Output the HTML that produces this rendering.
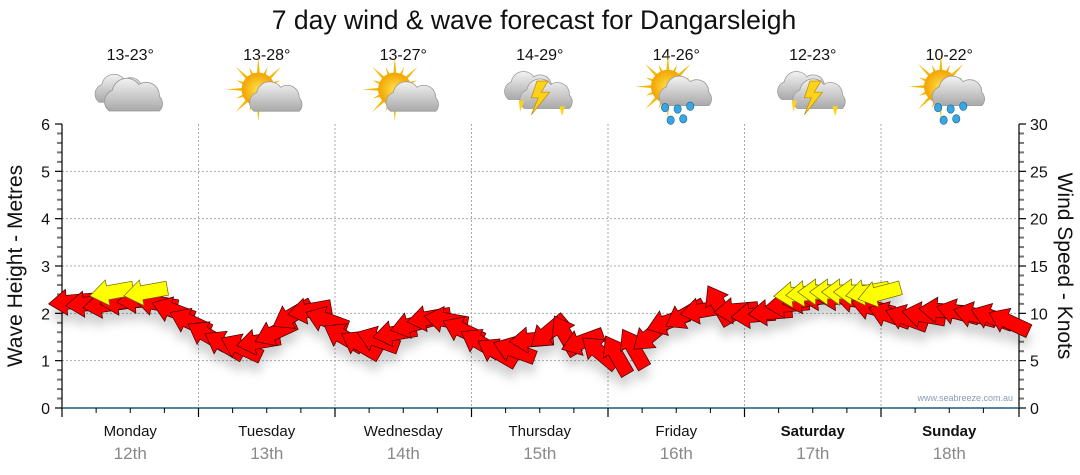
<!DOCTYPE html>
<html><head><meta charset="utf-8"><style>
html,body{margin:0;padding:0;background:#fff;}
svg{display:block;font-family:"Liberation Sans","DejaVu Sans",sans-serif;}
</style></head><body>
<svg id="chart" width="1080" height="475" viewBox="0 0 1080 475" xmlns="http://www.w3.org/2000/svg">
<defs>
<filter id="sh" x="-50%" y="-50%" width="200%" height="250%"><feDropShadow dx="0" dy="10" stdDeviation="5" flood-color="#000" flood-opacity="0.18"/></filter>
<radialGradient id="sun" cx="50%" cy="50%" r="50%"><stop offset="0" stop-color="#ffe14a"/><stop offset="1" stop-color="#f2a300"/></radialGradient>
<linearGradient id="cl" x1="0" y1="0" x2="0" y2="1"><stop offset="0" stop-color="#f2f2f2"/><stop offset="1" stop-color="#a9a9a9"/></linearGradient>
</defs>
<text x="534" y="29" font-size="26.5" text-anchor="middle" fill="#111">7 day wind &amp; wave forecast for Dangarsleigh</text>
<g id="grid"></g>
<g id="axes"></g>
<g id="icons"></g>
<g id="marks" filter="url(#sh)"></g>
<text transform="translate(22,266) rotate(-90)" font-size="21" text-anchor="middle" fill="#111">Wave Height - Metres</text>
<text transform="translate(1058,266) rotate(90)" font-size="21" text-anchor="middle" fill="#111">Wind Speed - Knots</text>
<text x="1013" y="401" font-size="9" text-anchor="end" fill="#8a9bb5">www.seabreeze.com.au</text>
</svg>
<script>
const days = ["Monday","Tuesday","Wednesday","Thursday","Friday","Saturday","Sunday"];
const dates = ["12th","13th","14th","15th","16th","17th","18th"];
const temps = ["13-23°","13-28°","13-27°","14-29°","14-26°","12-23°","10-22°"];
const weather = ["cloudy","partsun","partsun","storm","sunrain","storm","sunrain"];
const waveTicks = [0,1,2,3,4,5,6];
const windTicks = [0,5,10,15,20,25,30];
// wind speed in knots, 3-hourly
const windSpeed = [11.2,11.0,10.9,11.2,11.4,11.1,10.3,9.1,7.7,6.7,6.4,7.0,8.0,9.8,10.3,9.3,7.5,6.7,7.2,7.9,8.8,9.5,9.3,8.2,6.9,5.9,6.1,7.2,8.0,7.7,7.0,5.9,5.6,6.3,7.7,9.1,9.8,10.3,10.9,10.3,9.8,10.1,10.9,11.4,11.7,11.7,11.4,10.6,9.8,9.5,9.8,10.3,10.1,9.8,9.6,9.1];
// arrow rotation in degrees (0 = pointing left, positive = clockwise)
const windDir = [-5,-5,-8,-5,-5,10,20,25,30,30,25,-10,-25,-30,-10,20,30,30,20,-10,-15,-10,10,25,30,30,20,-5,-40,60,-20,40,60,60,-40,-20,-30,-10,60,-5,-5,-5,-5,-10,-5,-5,10,15,20,20,10,5,15,15,20,25];
// yellow wave/swell arrows: time index (3h units), wave height m, rotation
const swellT = [2.4,4.4,42.5,43.2,43.9,44.6,45.3,46.0,46.7,47.4];
const swellH = [2.45,2.45,2.4,2.42,2.45,2.45,2.45,2.45,2.45,2.42];
const swellDir = [-10,-10,-5,-5,0,0,0,0,-10,-15];

const NS="http://www.w3.org/2000/svg";
const X0=62, X1=1017.5, Y0=408, YT=124;
const dayW=(X1-X0)/7;
function xT(t){return X0 + t*dayW/8 + dayW/16;}
function yM(m){return Y0 - m*(Y0-YT)/6;}
function yK(k){return Y0 - k*(Y0-YT)/30;}
function mk(tag,attrs,parent){const e=document.createElementNS(NS,tag);for(const k in attrs)e.setAttribute(k,attrs[k]);parent.appendChild(e);return e;}
const grid=document.getElementById('grid'), axes=document.getElementById('axes'), icons=document.getElementById('icons'), marks=document.getElementById('marks');

waveTicks.forEach(v=>{
  const y=yM(v);
  if(v>0&&v<6){const g=mk('line',{x1:X0,x2:1019,y1:y,y2:y,stroke:'#aaa','stroke-dasharray':'2,2','stroke-width':1},grid);
  
  }
  const t=mk('text',{x:X0-12,y:y+6,'font-size':16,'text-anchor':'end',fill:'#111'},axes);t.textContent=v;
  
  
});
for(let i=0;i<=30;i++){const y=yM(i*0.2);mk('line',{x1:X0-(i%5==0?7:5),x2:X0,y1:y,y2:y,stroke:i%5==0?'#000':'#777','stroke-width':i%5==0?1.2:2},axes);}
for(let i=0;i<=30;i++){const y=yK(i);mk('line',{x1:1019,x2:1019+(i%5==0?7:5),y1:y,y2:y,stroke:i%5==0?'#000':'#777','stroke-width':i%5==0?1.2:2},axes);}
windTicks.forEach(v=>{const t=mk('text',{x:1030,y:yK(v)+6,'font-size':16,fill:'#111'},axes);t.textContent=v;
  
  });
mk('line',{x1:X0,x2:X0,y1:YT,y2:Y0,stroke:'#000','stroke-width':1.2},axes);
mk('line',{x1:1019,x2:1019,y1:YT,y2:Y0,stroke:'#000','stroke-width':1.2},axes);
mk('line',{x1:X0,x2:1019,y1:Y0,y2:Y0,stroke:'#1b5a86','stroke-width':1.5},axes);
for(let d=0;d<7;d++){
  const xs=X0+d*dayW, xc=xs+dayW/2;
  if(d>0){const g=mk('line',{x1:xs,x2:xs,y1:YT,y2:Y0,stroke:'#aaa','stroke-dasharray':'2,2'},grid);
  
  }
  mk('line',{x1:xs,x2:xs,y1:Y0,y2:Y0+9,stroke:'#000','stroke-width':1.2},axes);
  for(let q=1;q<4;q++){const xq=xs+q*dayW/4;mk('line',{x1:xq,x2:xq,y1:Y0,y2:Y0+5,stroke:'#000'},axes);}
  const dl=mk('text',{x:xc,y:436,'font-size':15,'text-anchor':'middle',fill:'#111','font-weight':d>=5?'bold':'normal'},axes);dl.textContent=days[d];
  
  
  const dt=mk('text',{x:xc,y:459,'font-size':17,'text-anchor':'middle',fill:'#888'},axes);dt.textContent=dates[d];
  
  
  const tt=mk('text',{x:xc,y:60,'font-size':16,'text-anchor':'middle',fill:'#111'},icons);tt.textContent=temps[d];
  
  
  const g=mk('g',{transform:`translate(${xc},95) scale(1.4)`},icons);
  
  
  drawIcon(g,weather[d]);
}
mk('line',{x1:1019,x2:1019,y1:Y0,y2:Y0+9,stroke:'#000','stroke-width':1.2},axes);

function cloud(g,dx,dy,s){
  const c=mk('g',{transform:`translate(${dx},${dy}) scale(${s})`},g);
  mk('path',{d:'M-18,8 a8,8 0 0 1 2,-14 a10,10 0 0 1 18,-4 a9,9 0 0 1 14,8 a7,7 0 0 1 0,10 z',fill:'url(#cl)',stroke:'#999','stroke-width':0.6},c);
}
function sunG(g,dx,dy){
  const s=mk('g',{transform:`translate(${dx},${dy})`},g);
  for(let i=0;i<16;i++){const a=i*Math.PI/8,r=i%2?17:23;
    mk('polygon',{points:`${Math.cos(a-0.12)*10},${Math.sin(a-0.12)*10} ${Math.cos(a)*r},${Math.sin(a)*r} ${Math.cos(a+0.12)*10},${Math.sin(a+0.12)*10}`,fill:'#f5b800'},s);}
  mk('circle',{r:12,fill:'url(#sun)'},s);
}
function drops(g){[[-8,9],[1,10],[10,8],[-4,18],[5,17]].forEach(p=>mk('ellipse',{cx:p[0],cy:p[1],rx:2.6,ry:3,fill:'#3aa6e0',stroke:'#1c6fa6','stroke-width':0.5},g));}
function bolt(g){mk('polygon',{points:'-2,-10 6,-10 1,-2 7,-2 -6,14 -1,2 -6,2',fill:'#ffd21a',stroke:'#c08a00','stroke-width':0.5},g);}
function drawIcon(g,type){
  if(type==='cloudy'){cloud(g,-6,-2,0.9);cloud(g,4,3,1.05);}
  else if(type==='partsun'){sunG(g,-6,-4);cloud(g,8,4,0.95);}
  else if(type==='storm'){cloud(g,-6,-4,0.9);cloud(g,6,2,0.95);bolt(g);mk('polygon',{points:'-15,4 -11,4 -14,12',fill:'#ffd21a'},g);mk('polygon',{points:'14,8 18,8 16,15',fill:'#ffd21a'},g);}
  else if(type==='sunrain'){sunG(g,-6,-6);cloud(g,8,0,0.95);drops(g);}
}
function arrowPath(){return 'M-22,0 L-4,-13 L-4,-7 L22,-7 L22,7 L-4,7 L-4,13 Z';}
windSpeed.forEach((k,i)=>{
  const a=mk('path',{d:arrowPath(),transform:`translate(${xT(i)},${yK(k)}) rotate(${windDir[i]})`,fill:'#ff0000',stroke:'#3a0000','stroke-width':0.7},marks);
  
  
});
swellT.forEach((t,i)=>{
  const a=mk('path',{d:arrowPath(),transform:`translate(${xT(t)},${yM(swellH[i])}) rotate(${swellDir[i]})`,fill:'#ffff00',stroke:'#6b6b00','stroke-width':0.7},marks);
  
  
});
</script>
</body></html>
